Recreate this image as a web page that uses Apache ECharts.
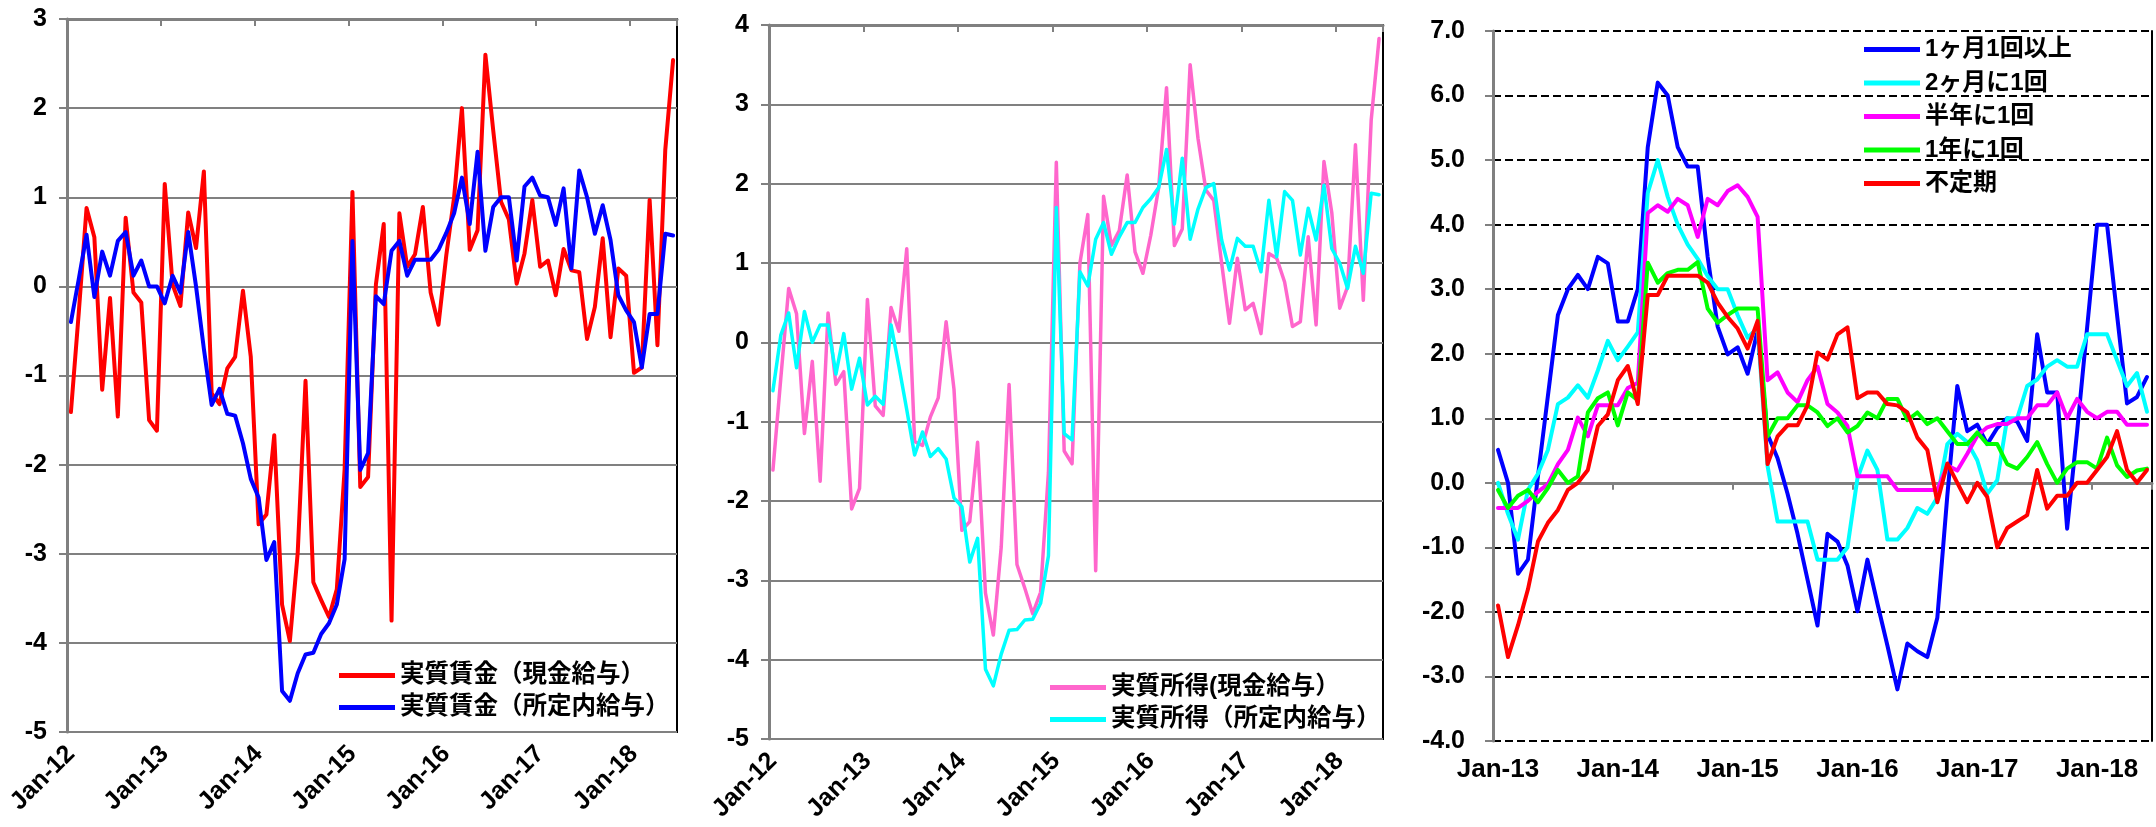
<!DOCTYPE html>
<html>
<head>
<meta charset="utf-8">
<script src="https://cdn.jsdelivr.net/npm/echarts@6/dist/echarts.min.js"></script>
<style>
html,body{margin:0;padding:0;background:#fff;}
#chart{width:2156px;height:827px;}
</style>
</head>
<body>
<div id="chart"></div>
<script>
// ---------- categories ----------
const monthNames = ['Jan','Feb','Mar','Apr','May','Jun','Jul','Aug','Sep','Oct','Nov','Dec'];
function monthLabels(startYear, count) {
  const out = [];
  for (let k = 0; k < count; k++) {
    const y = startYear + Math.floor(k / 12);
    out.push(monthNames[k % 12] + '-' + String(y % 100).padStart(2, '0'));
  }
  return out;
}
const months2012 = monthLabels(2012, 78);   // Jan-12 .. Jun-18
const months2013 = monthLabels(2013, 66);   // Jan-13 .. Jun-18

// ---------- chart 1 : 実質賃金 ----------
const wageCash = [-1.41,-0.3,0.88,0.55,-1.16,-0.13,-1.46,0.77,-0.07,-0.18,
  -1.50,-1.62,1.15,0.02,-0.22,0.83,0.43,1.29,-1.2,-1.32,
  -0.92,-0.79,-0.05,-0.79,-2.67,-2.56,-1.67,-3.57,-3.98,-2.99,
  -1.06,-3.32,-3.52,-3.71,-3.40,-2.05,1.06,-2.25,-2.14,0.02,
  0.70,-3.75,0.82,0.22,0.36,0.89,-0.07,-0.43,0.35,1.0,
  2.0,0.41,0.63,2.6,1.75,0.95,0.75,0.03,0.37,0.97,
  0.22,0.29,-0.1,0.42,0.18,0.16,-0.59,-0.23,0.54,-0.57,
  0.2,0.12,-0.97,-0.91,0.97,-0.66,1.53,2.54];
const wageScheduled = [-0.40,0.08,0.58,-0.12,0.39,0.12,0.51,0.61,0.12,0.29,
  0.0,0.0,-0.19,0.12,-0.07,0.61,0.0,-0.7,-1.33,-1.15,
  -1.43,-1.45,-1.76,-2.16,-2.37,-3.07,-2.87,-4.54,-4.65,-4.34,
  -4.13,-4.11,-3.90,-3.78,-3.57,-3.06,0.51,-2.06,-1.87,-0.11,
  -0.20,0.40,0.51,0.12,0.30,0.30,0.30,0.41,0.60,0.82,
  1.22,0.70,1.51,0.40,0.89,1.0,1.0,0.29,1.12,1.22,
  1.02,1.0,0.69,1.1,0.2,1.3,1.0,0.59,0.91,0.52,
  -0.1,-0.27,-0.4,-0.91,-0.31,-0.31,0.59,0.57];

// ---------- chart 2 : 実質所得 ----------
const incomeCash = [-1.61,-0.45,0.68,0.36,-1.15,-0.24,-1.75,0.37,-0.53,-0.37,
  -2.10,-1.84,0.54,-0.80,-0.92,0.44,0.14,1.18,-1.25,-1.3,
  -0.94,-0.70,0.26,-0.59,-2.37,-2.26,-1.26,-3.16,-3.69,-2.58,
  -0.53,-2.80,-3.10,-3.42,-3.15,-1.64,2.27,-1.37,-1.53,1.0,
  1.61,-2.88,1.84,1.22,1.41,2.11,1.14,0.87,1.35,1.95,
  3.21,1.22,1.43,3.50,2.57,1.92,1.79,1.0,0.24,1.06,
  0.41,0.49,0.11,1.12,1.06,0.76,0.2,0.26,1.33,0.22,
  2.28,1.63,0.43,0.70,2.49,0.53,2.8,3.83];
const incomeScheduled = [-0.61,0.09,0.37,-0.32,0.39,0.0,0.22,0.22,-0.40,0.11,
  -0.59,-0.20,-0.79,-0.68,-0.78,0.22,-0.3,-0.85,-1.42,-1.13,
  -1.44,-1.34,-1.47,-1.96,-2.07,-2.77,-2.47,-4.12,-4.33,-3.93,
  -3.63,-3.62,-3.50,-3.49,-3.29,-2.69,1.70,-1.15,-1.23,0.89,
  0.71,1.30,1.51,1.11,1.33,1.51,1.51,1.70,1.81,1.95,
  2.43,1.49,2.32,1.30,1.68,1.95,2.0,1.29,0.91,1.31,
  1.21,1.21,0.89,1.79,1.08,1.90,1.79,1.10,1.69,1.29,
  1.98,1.18,1.0,0.68,1.21,0.87,1.88,1.86];

// ---------- chart 3 : 頻度別 ----------
const freqMonthly = [0.51,0.0,-1.41,-1.19,0.1,1.35,2.6,3.0,3.22,3.0,
  3.5,3.4,2.5,2.5,3.0,5.2,6.2,6.0,5.2,4.9,
  4.9,3.5,2.42,1.99,2.1,1.69,2.36,0.75,0.38,-0.17,
  -0.79,-1.5,-2.21,-0.79,-0.91,-1.28,-1.99,-1.19,-1.87,-2.52,
  -3.2,-2.49,-2.61,-2.7,-2.09,-0.2,1.5,0.8,0.9,0.6,
  0.85,1.0,0.95,0.65,2.3,1.4,1.4,-0.71,0.8,2.4,
  4.0,4.0,2.6,1.23,1.33,1.64];
const freqBimonthly = [0.0,-0.48,-0.88,-0.11,0.14,0.51,1.22,1.32,1.51,1.32,
  1.74,2.2,1.9,2.11,2.33,4.49,5.0,4.43,4.0,3.69,
  3.47,3.2,3.0,3.0,2.6,2.25,2.4,0.26,-0.6,-0.6,
  -0.6,-0.6,-1.19,-1.19,-1.19,-1.0,0.07,0.5,0.2,-0.88,
  -0.88,-0.7,-0.39,-0.48,-0.23,0.6,0.76,0.63,0.35,-0.17,
  0.04,1.0,1.0,1.5,1.6,1.8,1.9,1.8,1.8,2.3,
  2.3,2.3,1.9,1.5,1.7,1.1];
const freqHalfYear = [-0.39,-0.39,-0.39,-0.28,-0.14,-0.02,0.29,0.51,1.01,0.72,
  1.2,1.2,1.2,1.47,1.55,4.18,4.3,4.2,4.4,4.3,
  3.81,4.4,4.3,4.52,4.61,4.43,4.12,1.59,1.71,1.4,
  1.25,1.59,1.8,1.22,1.09,0.88,0.1,0.1,0.1,0.1,
  -0.11,-0.11,-0.11,-0.11,-0.11,0.27,0.19,0.45,0.73,0.86,
  0.91,0.91,1.0,1.0,1.2,1.2,1.4,1.0,1.3,1.1,
  1.0,1.1,1.1,0.9,0.9,0.9];
const freqYearly = [-0.11,-0.39,-0.2,-0.11,-0.3,-0.08,0.2,0.0,0.1,1.09,
  1.31,1.4,0.89,1.4,1.28,3.41,3.1,3.25,3.3,3.3,
  3.42,2.7,2.48,2.6,2.7,2.7,2.7,0.72,1.0,1.0,
  1.2,1.2,1.09,0.88,1.0,0.78,0.88,1.09,1.0,1.3,
  1.3,0.97,1.09,0.91,1.0,0.8,0.6,0.6,0.78,0.6,
  0.6,0.29,0.22,0.4,0.63,0.29,0.0,0.22,0.32,0.32,
  0.22,0.7,0.27,0.09,0.19,0.22];
const freqIrregular = [-1.9,-2.7,-2.21,-1.65,-0.91,-0.62,-0.42,-0.11,0.0,0.2,
  0.88,1.06,1.59,1.81,1.22,2.91,2.91,3.21,3.21,3.21,
  3.21,3.1,2.79,2.57,2.39,2.08,2.51,0.29,0.72,0.89,
  0.89,1.2,2.02,1.91,2.3,2.41,1.31,1.4,1.4,1.22,
  1.2,1.09,0.7,0.51,-0.3,0.3,0.0,-0.3,0.0,-0.22,
  -1.0,-0.7,-0.6,-0.5,0.2,-0.4,-0.2,-0.2,0.0,0.0,
  0.2,0.4,0.8,0.2,0.0,0.2];

// ---------- names ----------
const names1 = ['実質賃金（現金給与）', '実質賃金（所定内給与）'];
const names2 = ['実質所得(現金給与）', '実質所得（所定内給与）'];
const names3 = ['1ヶ月1回以上', '2ヶ月に1回', '半年に1回', '1年に1回', '不定期'];

// ---------- styling ----------
const LAT = '"Liberation Sans", Arial, sans-serif';
const CJK = '"Liberation Sans", "Noto Sans CJK JP", sans-serif';
const GRAY = '#808080';

function labelAxis(gi, cats, rotate, margin, fontSize) {
  return {
    gridIndex: gi, type: 'category', data: cats, boundaryGap: true, position: 'bottom',
    axisLine: {show: false}, axisTick: {show: false}, splitLine: {show: false},
    axisLabel: {interval: 11, rotate: rotate, margin: margin, fontSize: fontSize,
      fontWeight: 'bold', color: '#000', fontFamily: LAT}
  };
}
function zeroAxis(gi, cats) {
  return {
    gridIndex: gi, type: 'category', data: cats, boundaryGap: true, position: 'top',
    axisLine: {show: true, onZero: true, lineStyle: {color: GRAY, width: 3}},
    axisTick: {show: true, interval: 11, inside: true, length: 7, lineStyle: {color: GRAY, width: 2}},
    axisLabel: {show: false}, splitLine: {show: false}
  };
}
function valAxis(gi, min, max, margin, fontSize, fmt, split) {
  return {
    gridIndex: gi, type: 'value', min: min, max: max, interval: 1,
    axisLine: {show: true, lineStyle: {color: GRAY, width: 3}},
    axisTick: {show: true, length: 8, lineStyle: {color: GRAY, width: 2}},
    axisLabel: {fontSize: fontSize, fontWeight: 'bold', color: '#000', fontFamily: LAT, margin: margin,
      formatter: fmt},
    splitLine: split
  };
}
function lineSeries(name, xi, yi, data, color, width) {
  return {
    name: name, type: 'line', xAxisIndex: xi, yAxisIndex: yi, data: data,
    symbol: 'none', smooth: false,
    lineStyle: {color: color, width: width, join: 'round', cap: 'round'},
    itemStyle: {color: color}
  };
}
function legendAt(left, top, names, gap, lh, fs) {
  return {
    data: names, orient: 'vertical', left: left, top: top, icon: 'rect',
    itemWidth: 56, itemHeight: 5, itemGap: gap, padding: 0,
    textStyle: {fontSize: fs, fontWeight: 'bold', color: '#000', fontFamily: CJK, lineHeight: lh}
  };
}

const chart = echarts.init(document.getElementById('chart'), null, {renderer: 'canvas'});
chart.setOption({
  animation: false,
  backgroundColor: '#fff',
  grid: [
    {left: 67, top: 19, width: 610, height: 713, show: true, borderColor: '#000', borderWidth: 2},
    {left: 769, top: 25, width: 614, height: 714, show: true, borderColor: '#000', borderWidth: 2},
    {left: 1493, top: 31, width: 659, height: 710}
  ],
  xAxis: [
    labelAxis(0, months2012, 45, 18, 25),
    zeroAxis(0, months2012),
    labelAxis(1, months2012, 45, 18, 25),
    zeroAxis(1, months2012),
    labelAxis(2, months2013, 0, 16, 26),
    zeroAxis(2, months2013)
  ],
  yAxis: [
    valAxis(0, -5, 3, 20, 25, v => String(v), {show: true, lineStyle: {color: GRAY, width: 2}}),
    valAxis(1, -5, 4, 20, 25, v => String(v), {show: true, lineStyle: {color: GRAY, width: 2}}),
    valAxis(2, -4, 7, 28, 25, v => v.toFixed(1), {show: true, lineStyle: {color: '#000', width: 2, type: [8, 4]}}),
    {gridIndex: 2, type: 'value', min: -4, max: 7, interval: 1, position: 'right',
      axisLine: {show: true, onZero: false, lineStyle: {color: '#000', width: 2}},
      axisTick: {show: false}, axisLabel: {show: false}, splitLine: {show: false}}
  ],
  legend: [
    legendAt(339, 662, names1, 5, 27, 24.5),
    legendAt(1050, 674, names2, 5, 27, 24.5),
    legendAt(1864, 37, names3, 8.5, 25, 24)
  ],
  series: [
    lineSeries(names1[0], 0, 0, wageCash, '#FF0000', 4),
    lineSeries(names1[1], 0, 0, wageScheduled, '#0000FF', 4),
    lineSeries(names2[0], 2, 1, incomeCash, '#FF66CC', 3.5),
    lineSeries(names2[1], 2, 1, incomeScheduled, '#00FFFF', 3.5),
    lineSeries(names3[0], 4, 2, freqMonthly, '#0000FF', 4),
    lineSeries(names3[1], 4, 2, freqBimonthly, '#00FFFF', 4),
    lineSeries(names3[2], 4, 2, freqHalfYear, '#FF00FF', 4),
    lineSeries(names3[3], 4, 2, freqYearly, '#00FF00', 4),
    lineSeries(names3[4], 4, 2, freqIrregular, '#FF0000', 4)
  ]
});
</script>
</body>
</html>
